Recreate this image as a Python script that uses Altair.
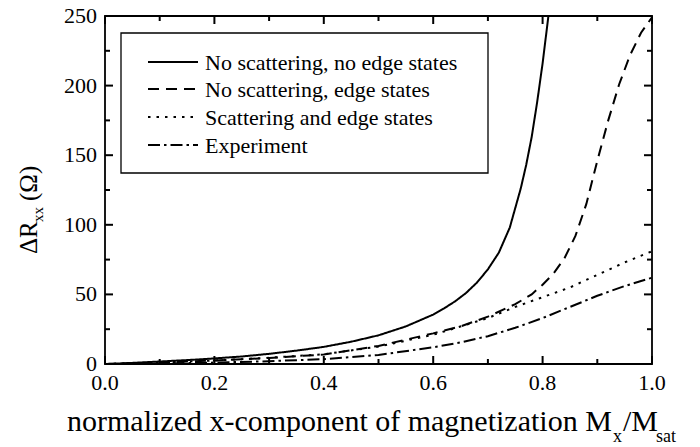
import altair as alt
import pandas as pd

# ---------------- data ----------------
series_names = [
    "No scattering, no edge states",
    "No scattering, edge states",
    "Scattering and edge states",
    "Experiment",
]

x_solid = [0.0, 0.05, 0.1, 0.15, 0.2, 0.25, 0.3, 0.35, 0.4, 0.45, 0.5, 0.55, 0.6, 0.62, 0.64, 0.66, 0.68, 0.7, 0.72, 0.74, 0.75, 0.76, 0.77, 0.78, 0.79, 0.8, 0.81, 0.815]
y_solid = [0.0, 0.8, 1.8, 2.8, 4.0, 5.4, 7.3, 9.6, 12.3, 16.0, 20.6, 27.0, 35.5, 40.0, 45.0, 51.0, 58.5, 68.0, 80.0, 98.0, 112.0, 126.0, 143.0, 163.0, 188.0, 216.0, 248.0, 266.0]

x_dash = [0.0, 0.1, 0.2, 0.3, 0.4, 0.5, 0.6, 0.65, 0.7, 0.75, 0.78, 0.8, 0.82, 0.84, 0.86, 0.88, 0.9, 0.92, 0.94, 0.96, 0.98, 1.0]
y_dash = [0.0, 1.0, 2.5, 4.3, 6.8, 13.0, 22.0, 27.0, 34.0, 43.0, 50.0, 57.0, 65.0, 76.0, 92.0, 115.0, 146.0, 175.0, 201.0, 222.0, 238.0, 249.0]

x_dot = [0.0, 0.1, 0.2, 0.3, 0.4, 0.5, 0.6, 0.7, 0.75, 0.8, 0.85, 0.9, 0.95, 1.0]
y_dot = [0.0, 1.0, 2.5, 4.5, 7.0, 12.5, 21.0, 33.0, 41.0, 48.0, 55.0, 64.0, 73.0, 81.0]

x_exp = [0.0, 0.1, 0.2, 0.3, 0.4, 0.5, 0.6, 0.65, 0.7, 0.75, 0.8, 0.85, 0.9, 0.95, 1.0]
y_exp = [0.0, 0.3, 1.0, 2.0, 3.5, 6.5, 12.0, 15.5, 20.0, 26.0, 33.0, 41.0, 49.0, 56.0, 62.0]

x_major = [0.0, 0.2, 0.4, 0.6, 0.8, 1.0]
x_minor = [0.1, 0.3, 0.5, 0.7, 0.9]
y_major = [0, 50, 100, 150, 200, 250]
y_minor = [25, 75, 125, 175, 225]
x_labels = ["0.0", "0.2", "0.4", "0.6", "0.8", "1.0"]
y_labels = ["0", "50", "100", "150", "200", "250"]

y_title_parts = ["ΔR", "xx", "(Ω)"]
x_title_parts = ["normalized x-component of magnetization M", "x", "/M", "sat"]

dash_patterns = [[1, 0], [11, 7], [2.5, 6], [12, 4, 2.5, 4]]

# ---------------- build tables ----------------
rows = []
for name, xs_, ys_ in zip(series_names, [x_solid, x_dash, x_dot, x_exp], [y_solid, y_dash, y_dot, y_exp]):
    for a, b in zip(xs_, ys_):
        rows.append({"series": name, "x": a, "y": b})
df = pd.DataFrame(rows)

W, H = 547, 348
FONT = "Liberation Serif"
X0, X1, Y0, Y1 = 0.0, 1.0, 0.0, 250.0

xscale = alt.Scale(domain=[X0, X1], nice=False, zero=False)
yscale = alt.Scale(domain=[Y0, Y1], nice=False, zero=False)

lines = alt.Chart(df).mark_line(clip=True, strokeWidth=2, color="black").encode(
    x=alt.X("x:Q", scale=xscale, axis=None),
    y=alt.Y("y:Q", scale=yscale, axis=None),
    strokeDash=alt.StrokeDash("series:N", scale=alt.Scale(domain=series_names, range=dash_patterns), legend=None),
    order=alt.Order("x:Q"),
)

# tick labels, placed through the scales
xlab = alt.Chart(pd.DataFrame({"v": x_major, "lab": x_labels})).mark_text(
    font=FONT, fontSize=22, align="center", baseline="top", color="black"
).encode(x=alt.X("v:Q", scale=xscale, axis=None), y=alt.value(H + 9), text="lab:N")

ylab = alt.Chart(pd.DataFrame({"v": y_major, "lab": y_labels})).mark_text(
    font=FONT, fontSize=22, align="right", baseline="middle", color="black"
).encode(y=alt.Y("v:Q", scale=yscale, axis=None), x=alt.value(-8), text="lab:N")

# inward frame ticks on all four sides (major 8 px, minor 5 px)
MAJ, MIN = 8, 5
one = pd.DataFrame({"a": [0]})

def px(v):
    return float((v - X0) / (X1 - X0) * W)

def py(v):
    return float(H - (v - Y0) / (Y1 - Y0) * H)

def seg(xa, xb, ya, yb):
    return alt.Chart(one).mark_rule(color="black", strokeWidth=2).encode(
        x=alt.value(xa), x2=alt.value(xb), y=alt.value(ya), y2=alt.value(yb))

tick_layers = []
for vals, L in ((x_major, MAJ), (x_minor, MIN)):
    for v in vals:
        p = px(v)
        tick_layers.append(seg(p, p, float(H), float(H - L)))
        tick_layers.append(seg(p, p, 0.0, float(L)))
for vals, L in ((y_major, MAJ), (y_minor, MIN)):
    for v in vals:
        p = py(v)
        tick_layers.append(seg(0.0, float(L), p, p))
        tick_layers.append(seg(float(W), float(W - L), p, p))

# ---------------- legend (drawn by hand) ----------------
legend_box = alt.Chart(pd.DataFrame({"a": [0]})).mark_rect(
    fill="white", stroke="black", strokeWidth=1.3
).encode(x=alt.value(16), x2=alt.value(383), y=alt.value(17), y2=alt.value(157))

legend_y = [46, 73, 101, 129]
legend_layers = [legend_box]
for name, dash, yc in zip(series_names, dash_patterns, legend_y):
    d = pd.DataFrame({"label": [name]})
    legend_layers.append(
        alt.Chart(d).mark_rule(color="black", strokeWidth=2, strokeDash=dash).encode(
            x=alt.value(43), x2=alt.value(93), y=alt.value(yc)
        )
    )
    legend_layers.append(
        alt.Chart(d).mark_text(font=FONT, fontSize=22, align="left", baseline="middle", color="black").encode(
            x=alt.value(100), y=alt.value(yc + 1), text="label:N"
        )
    )

# ---------------- axis titles (with subscripts) ----------------
def txt(s, x, y, size, angle=0):
    return alt.Chart(pd.DataFrame({"t": [s]})).mark_text(
        font=FONT, fontSize=size, align="left", baseline="alphabetic", color="black", angle=angle
    ).encode(x=alt.value(x), y=alt.value(y), text="t:N")

titles = [
    txt(y_title_parts[0], -68, 238, 25, 270),
    txt(y_title_parts[1], -62, 206, 15, 270),
    txt(y_title_parts[2], -68, 185, 25, 270),
    txt(x_title_parts[0], -38, 415, 30),
    txt(x_title_parts[1], 508, 426, 18),
    txt(x_title_parts[2], 518, 415, 30),
    txt(x_title_parts[3], 551, 426, 18),
]

chart = alt.layer(lines, *legend_layers, *titles, xlab, ylab, *tick_layers).properties(
    width=W, height=H,
    autosize=alt.AutoSizeParams(type="none"),
    padding={"left": 97, "top": 8, "right": 40, "bottom": 83},
).configure_view(stroke="black", strokeWidth=1.8)

chart.save("out.html", embed_options={"renderer": "svg", "actions": False})
